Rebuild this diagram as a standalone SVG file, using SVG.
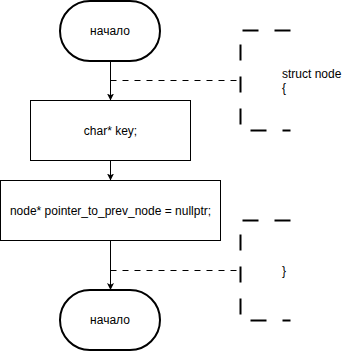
<svg xmlns="http://www.w3.org/2000/svg" width="342" height="352" viewBox="0 0 342 352">
  <style>
    .term { fill: #ffffff; stroke: #000000; stroke-width: 2; }
    .box { fill: #ffffff; stroke: #000000; stroke-width: 1; }
    .flow { fill: none; stroke: #000000; stroke-width: 1; }
    .link { fill: none; stroke: #000000; stroke-width: 1; stroke-dasharray: 6 6; }
    .note { fill: none; stroke: #000000; stroke-width: 2; stroke-dasharray: 16 16; }
    text { font-family: "Liberation Sans", Arial, sans-serif; font-size: 12px; fill: #000000; }
    .c { text-anchor: middle; }
  </style>
  <defs>
    <marker id="arrow" markerUnits="userSpaceOnUse" markerWidth="8" markerHeight="8" viewBox="0 0 8 8" refX="7" refY="4" orient="auto">
      <path d="M0,0.5 L7,4 L0,7.5 L1.75,4 Z" fill="#000000"/>
    </marker>
  </defs>

  <rect width="342" height="352" fill="#ffffff"/>

  <g id="connectors">
    <line class="flow" x1="110.5" y1="61" x2="110.5" y2="100.5" marker-end="url(#arrow)"/>
    <line class="flow" x1="110.5" y1="160.5" x2="110.5" y2="180.5" marker-end="url(#arrow)"/>
    <line class="flow" x1="110.5" y1="240.5" x2="110.5" y2="290" marker-end="url(#arrow)"/>
    <line class="link" x1="110.5" y1="80.5" x2="240.5" y2="80.5"/>
    <line class="link" x1="110.5" y1="270.5" x2="240.5" y2="270.5"/>
  </g>

  <g id="start">
    <rect class="term" x="60" y="1" width="100" height="60" rx="30" ry="30"/>
    <text class="c" x="110" y="35">начало</text>
  </g>

  <g id="key">
    <rect class="box" x="30.5" y="100.5" width="160" height="60"/>
    <text class="c" x="110.5" y="135">char* key;</text>
  </g>

  <g id="prev">
    <rect class="box" x="0.5" y="180.5" width="220" height="60"/>
    <text class="c" x="110.5" y="215">node* pointer_to_prev_node = nullptr;</text>
  </g>

  <g id="end">
    <rect class="term" x="60" y="290" width="100" height="60" rx="30" ry="30"/>
    <text class="c" x="110" y="324">начало</text>
  </g>

  <g id="note-open">
    <path class="note" d="M290.5,30.5 H240.5 V130.5 H290.5"/>
    <text x="282" y="78">struct node</text>
    <text x="282" y="92">{</text>
  </g>

  <g id="note-close">
    <path class="note" d="M290.5,220.5 H240.5 V320.5 H290.5"/>
    <text x="282" y="275">}</text>
  </g>
</svg>
